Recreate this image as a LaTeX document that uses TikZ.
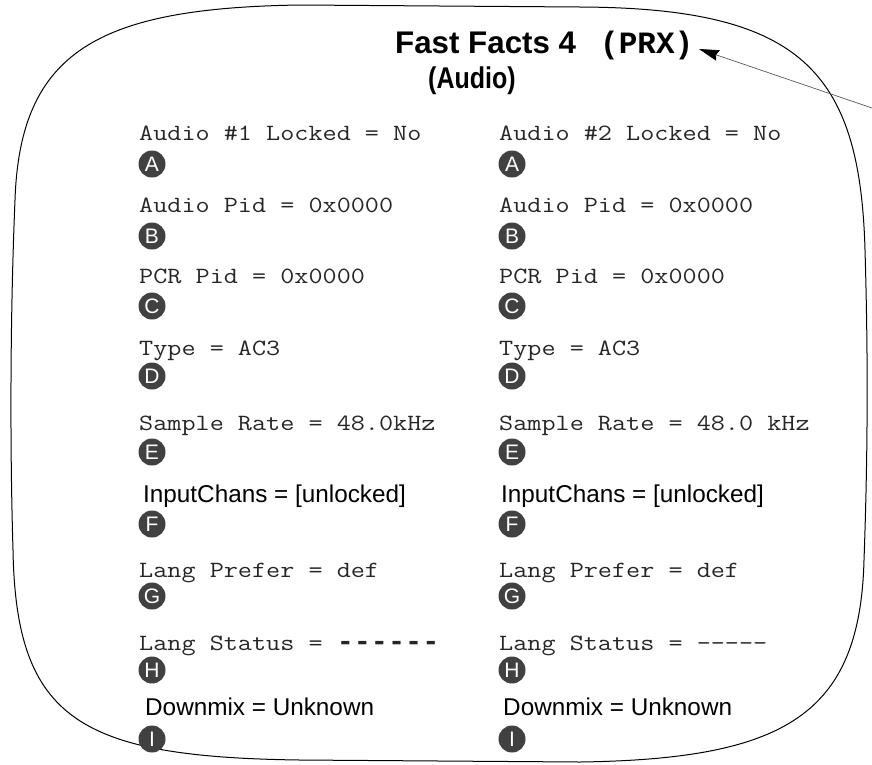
\documentclass[tikz,border=0pt]{standalone}
\usepackage{fontspec}
\usepackage{graphicx}
\setmainfont{Liberation Sans}
\newfontfamily\cour{Liberation Mono}
\usetikzlibrary{arrows.meta}
\definecolor{badgegray}{HTML}{414141}
\newcommand{\mtxt}[1]{\scalebox{1}[0.85]{#1}}
\newcommand{\bdash}[1]{{\cour\bfseries\fontsize{28.5}{30}\selectfont #1}}
\begin{document}
\begin{tikzpicture}[x=1pt,y=-1pt,
  mono/.style={anchor=base west, inner sep=0, font=\ttfamily\fontsize{27.4}{30}\selectfont, text=black!85},
  sans/.style={anchor=base west, inner sep=0, font=\fontsize{24.3}{29}\selectfont},
  badge/.style={circle, fill=badgegray, text=white, minimum size=27pt, inner sep=0, font=\fontsize{21}{21}\selectfont},
  frame/.style={line width=1pt, black},
  pointer/.style={line width=0.7pt, black!65, -{Stealth[length=20pt,width=11pt,inset=2pt,color=black]}}]
\useasboundingbox (0,0) rectangle (872,764);
% outline
\draw[frame] (300,5) .. controls (100,8) and (20,50) .. (15,200)
  .. controls (10,320) and (10,450) .. (13,550)
  .. controls (16,720) and (80,757) .. (300,760)
  -- (580,762)
  .. controls (785,759) and (860,715) .. (864,560)
  .. controls (868,450) and (868,350) .. (865,250)
  .. controls (860,70) and (800,8) .. (580,7)
  -- cycle;
% title
\node[anchor=base west, inner sep=0, font=\bfseries\fontsize{31.3}{36}\selectfont] (title) at (395,53) {Fast Facts 4};
\node[anchor=base west, inner sep=0, font=\cour\bfseries\fontsize{31}{36}\selectfont] (prx) at (600,53) {(PRX)};
\node[anchor=base west, inner sep=0, font=\bfseries\fontsize{25}{30}\selectfont] (audio) at (428,88) {\scalebox{1}[1.2]{(Audio)}};
\coordinate (src) at (872,108);
\coordinate (tip) at (699,49);
\draw[pointer] (src) -- (tip);
% left column
\node[mono] (l1) at (139,140) {\mtxt{Audio \#1 Locked = No}};
\node[badge] (la) at (152,164) {A};
\node[mono] (l2) at (139,212) {\mtxt{Audio Pid = 0x0000}};
\node[badge] (lb) at (152,236) {B};
\node[mono] (l3) at (139,283) {\mtxt{PCR Pid = 0x0000}};
\node[badge] (lc) at (152,306) {C};
\node[mono] (l4) at (139,355) {\mtxt{Type = AC3}};
\node[badge] (ld) at (152,376) {D};
\node[mono] (l5) at (139,430) {\mtxt{Sample Rate = 48.0kHz}};
\node[badge] (le) at (152,452) {E};
\node[sans] (l6) at (143,502) {InputChans = [unlocked]};
\node[badge] (lf) at (152,524) {F};
\node[mono] (l7) at (139,577) {\mtxt{Lang Prefer = def}};
\node[badge] (lg) at (152,596) {G};
\node[mono] (l8) at (139,650) {\mtxt{Lang Status = }\bdash{-{}-{}-{}-{}-{}-}};
\node[badge] (lh) at (152,670) {H};
\node[sans] (l9) at (145,715) {Downmix = Unknown};
\node[badge] (li) at (152,739) {I};
% right column
\node[mono] (r1) at (499,140) {\mtxt{Audio \#2 Locked = No}};
\node[badge] (ra) at (512,164) {A};
\node[mono] (r2) at (499,212) {\mtxt{Audio Pid = 0x0000}};
\node[badge] (rb) at (512,236) {B};
\node[mono] (r3) at (499,283) {\mtxt{PCR Pid = 0x0000}};
\node[badge] (rc) at (512,306) {C};
\node[mono] (r4) at (499,355) {\mtxt{Type = AC3}};
\node[badge] (rd) at (512,376) {D};
\node[mono] (r5) at (499,430) {\mtxt{Sample Rate = 48.0 kHz}};
\node[badge] (re) at (512,452) {E};
\node[sans] (r6) at (501,502) {InputChans = [unlocked]};
\node[badge] (rf) at (512,524) {F};
\node[mono] (r7) at (499,577) {\mtxt{Lang Prefer = def}};
\node[badge] (rg) at (512,596) {G};
\node[mono] (r8) at (499,650) {\mtxt{Lang Status = -{}-{}-{}-{}-}};
\node[badge] (rh) at (512,670) {H};
\node[sans] (r9) at (503,715) {Downmix = Unknown};
\node[badge] (ri) at (512,739) {I};
\end{tikzpicture}
\end{document}
